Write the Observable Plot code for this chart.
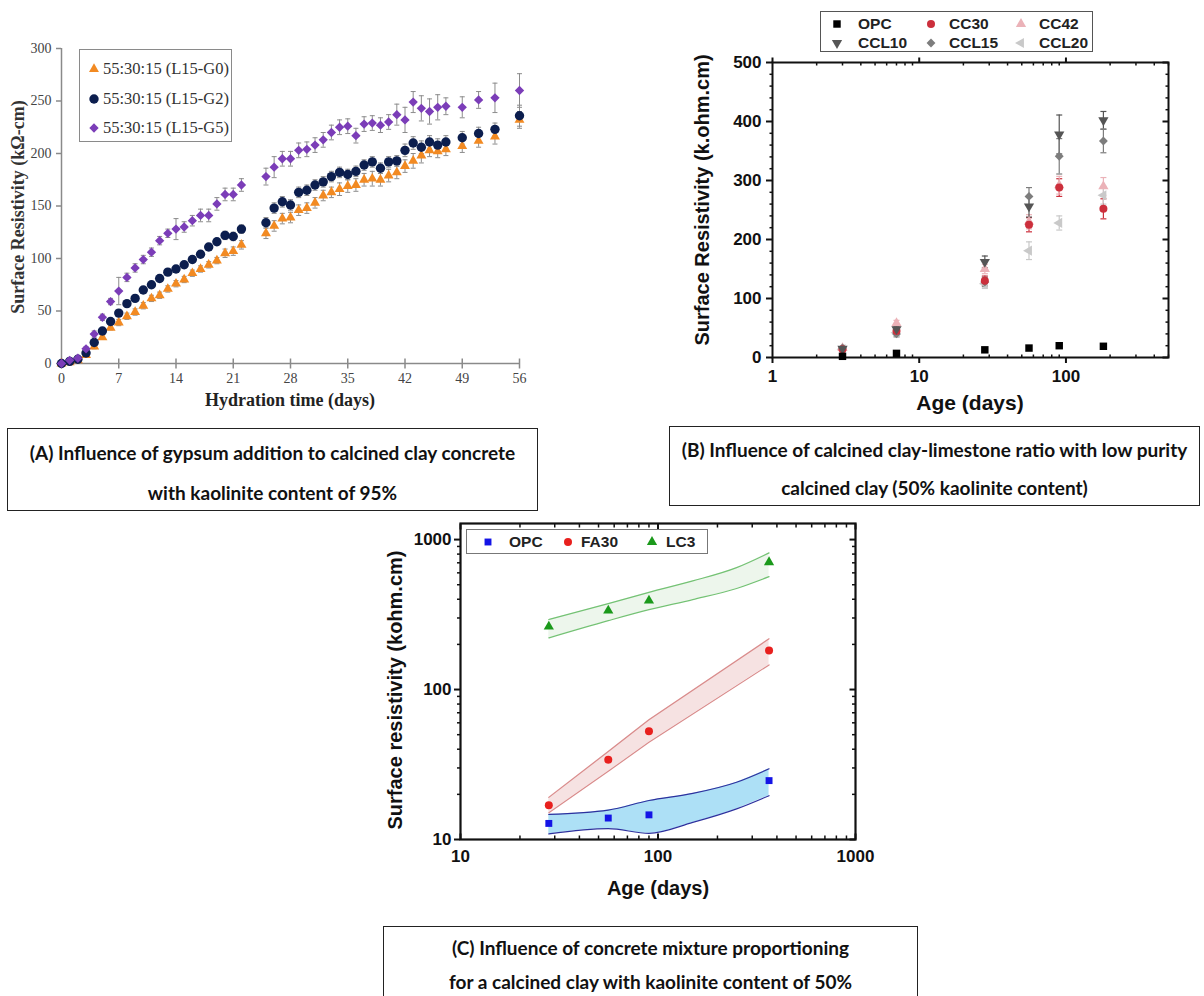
<!DOCTYPE html>
<html><head><meta charset="utf-8">
<script src="https://cdn.jsdelivr.net/npm/d3@7"></script>
<script src="https://cdn.jsdelivr.net/npm/@observablehq/plot@0.6"></script>
<style>
html,body{margin:0;padding:0;background:#fff;}
body{width:1204px;height:996px;position:relative;overflow:hidden;}
.abs{position:absolute;}
.cap{position:absolute;border:1.5px solid #222;font-family:Lato,"Open Sans",sans-serif;font-weight:bold;font-size:19px;text-align:center;color:#111;box-sizing:border-box;white-space:nowrap;}
.cap div{position:absolute;left:0;right:0;transform:translateY(-50%);}
.rot{position:absolute;transform:translate(-50%,-50%) rotate(-90deg);white-space:nowrap;}
.ctr{position:absolute;transform:translate(-50%,-50%);white-space:nowrap;}
.leg{position:absolute;box-sizing:border-box;background:#fff;}
.leg span{position:absolute;transform:translateY(-50%);white-space:nowrap;}
.leg svg{position:absolute;overflow:visible;}
</style></head><body>
<script>
// ---------------- Panel A data ----------------
const seriesA = ["55:30:15 (L15-G0)", "55:30:15 (L15-G2)", "55:30:15 (L15-G5)"];
const daysA = [0,1,2,3,4,5,6,7,8,9,10,11,12,13,14,15,16,17,18,19,20,21,22,25,26,27,28,29,30,31,32,33,34,35,36,37,38,39,40,41,42,43,44,45,46,47,49,51,53,56];
const g0 = [0,1,3,8,16,25,34,39,45,49,55,62,65,71,76,80,86,90,94,98,105,107,113,124,131,138,139,146,148,153,160,163,166,169,170,175,176,175,179,182,188,193,198,203,202,204,207,212,216,232];
const g2 = [0,2,4,10,20,31,40,48,57,62,70,75,81,87,90,94,99,104,111,116,122,121,128,134,148,154,151,163,165,170,173,178,182,180,183,189,192,186,192,193,203,210,206,211,208,211,215,219,223,236];
const g5 = [0,3,5,14,28,44,59,69,82,91,99,106,117,124,128,130,136,141,141,152,161,161,170,178,187,195,195,203,204,208,213,220,225,226,217,228,229,227,230,237,232,249,243,240,244,245,244,251,253,260];
const eG0 = [0,1,1,2,2,2,2,3,3,3,3,3,3,3,3,3,3,3,3,3,4,4,4,5,5,5,5,5,5,5,5,5,6,6,6,6,7,6,6,6,6,7,7,6,6,6,6,6,7,8];
const eG2 = [0,1,1,2,2,2,2,3,3,3,3,3,3,3,3,3,3,3,3,3,4,4,4,5,5,5,5,5,5,5,5,5,5,5,5,5,5,5,5,5,6,6,6,6,6,6,6,6,6,10];
const eG5 = [0,1,2,2,3,3,3,13,4,4,4,4,4,4,10,5,5,6,6,6,6,6,6,8,10,7,7,7,7,7,7,7,7,7,7,7,7,7,7,10,12,10,12,12,12,8,10,8,14,16];
const xTicksA = [0,7,14,21,28,35,42,49,56];
const yTicksA = [0,50,100,150,200,250,300];

// ---------------- Panel B data ----------------
const seriesB = ["OPC","CC30","CC42","CCL10","CCL15","CCL20"];
const daysB = [3,7,28,56,90,180];
const opcB   = [2,7,13,16,20,19];
const cc30   = [14,45,130,225,288,252];
const cc42   = [16,58,150,230,292,290];
const ccl10  = [15,48,162,256,378,402];
const ccl15  = [16,40,128,273,341,367];
const ccl20  = [14,42,125,181,228,275];
const eOpcB  = [0,0,0,0,0,0];
const eCc30  = [2,5,8,12,15,17];
const eCc42  = [2,5,8,12,15,15];
const eCcl10 = [2,5,10,18,33,15];
const eCcl15 = [2,5,8,15,30,20];
const eCcl20 = [2,5,8,15,12,15];
const xTicksB = [1,10,100];
const yTicksB = [0,100,200,300,400,500];

// ---------------- Panel C data ----------------
const seriesC = ["OPC","FA30","LC3"];
const daysC = [28,56,90,365];
const opcC  = [12.8,13.9,14.6,24.7];
const fa30  = [16.9,34,52.7,182];
const lc3   = [263,336,392,706];
const bandDaysOPC = [28,56,90,150,250,365];
const opcUp  = [14.7,15.7,18.2,20.3,24.1,29.6];
const opcLo  = [10.9,11.8,11.0,13.0,16.0,19.6];
const bandDaysFA = [28,56,90,365];
const faUp   = [19.1,38.6,62.8,218];
const faLo   = [15.1,28.5,44.5,146];
const bandDaysLC = [28,56,90,150,250,365];
const lcUp   = [293,374,445,530,650,815];
const lcLo   = [221,288,341,398,472,566];
const xTicksC = [10,100,1000];
const yTicksC = [10,100,1000];

// ---------------- helpers ----------------
const lineSym = (x1,y1,x2,y2) => ({draw(ctx, size){const r=Math.sqrt(size/Math.PI); ctx.moveTo(x1*r,y1*r); ctx.lineTo(x2*r,y2*r);}});
const vFull = lineSym(0,-1,0,1), hFull = lineSym(-1,0,1,0);
const tUp = lineSym(0,0,0,-1), tDown = lineSym(0,0,0,1), tLeft = lineSym(0,0,-1,0);

function place(node, left, top){ const d=document.createElement("div"); d.className="abs"; d.style.left=left+"px"; d.style.top=top+"px"; d.appendChild(node); document.body.appendChild(d); return d; }
function text(cls, str, x, y, style){ const d=document.createElement("div"); d.className=cls; d.textContent=str; d.style.left=x+"px"; d.style.top=y+"px"; Object.assign(d.style, style); document.body.appendChild(d); return d; }
function symPath(name, r){ const m={circle:d3.symbolCircle,triangle:d3.symbolTriangle,square:d3.symbolSquare,diamond2:d3.symbolDiamond2}; return d3.symbol(m[name], r*r*Math.PI)(); }
function legend(box, items, font){
  const L=document.createElement("div"); L.className="leg";
  Object.assign(L.style,{left:box.x+"px",top:box.y+"px",width:box.w+"px",height:box.h+"px",border:box.border});
  items.forEach(it=>{
    const s=document.createElementNS("http://www.w3.org/2000/svg","svg");
    s.setAttribute("width",1); s.setAttribute("height",1);
    s.style.left=it.mx+"px"; s.style.top=it.y+"px";
    const p=document.createElementNS("http://www.w3.org/2000/svg","path");
    p.setAttribute("d",symPath(it.sym,it.r)); p.setAttribute("fill",it.color);
    if(it.rot) p.setAttribute("transform","rotate("+it.rot+")");
    s.appendChild(p); L.appendChild(s);
    const t=document.createElement("span"); t.textContent=it.label;
    Object.assign(t.style,{left:it.tx+"px",top:it.y+"px"},font); L.appendChild(t);
  });
  document.body.appendChild(L);
}

// ---------------- Panel A ----------------
const colA = ["#f28a22","#0c1e4e","#7b3db8"];
const symA = ["triangle","circle","diamond2"];
const rA = [3.7,4.7,4.2];
const valsA = [g0,g2,g5], errsA = [eG0,eG2,eG5];
const rowsA = valsA.map((arr,k)=>daysA.map((d,i)=>({k, day:d, v:arr[i], e:errsA[k][i]})));
const serifA = "'Liberation Serif','Times New Roman',serif";
const marksA = [
  Plot.ruleY([0],{stroke:"#8a8a8a",strokeWidth:1.5}),
  Plot.ruleX([0],{stroke:"#8a8a8a",strokeWidth:1.5}),
  Plot.dot(xTicksA,{x:d=>d,y:()=>0,symbol:vFull,r:5,stroke:"#8a8a8a",fill:"none",strokeWidth:1.5}),
  Plot.axisX({ticks:xTicksA,tickSize:0,tickPadding:10,fontSize:14,fontFamily:serifA,fill:"#444",label:null}),
  Plot.axisY({ticks:yTicksA,tickSize:5,tickPadding:5,stroke:"#8a8a8a",strokeWidth:1.5,fontSize:14,fontFamily:serifA,fill:"#444",label:null})
];
rowsA.forEach(rows=>{
  const r2=rows.filter(d=>d.e>0);
  marksA.push(Plot.ruleX(r2,{x:"day",y1:d=>d.v-d.e,y2:d=>d.v+d.e,stroke:"#8c8c8c",strokeWidth:1}));
  marksA.push(Plot.dot(r2,{x:"day",y:d=>d.v+d.e,symbol:hFull,r:2.5,stroke:"#8c8c8c",fill:"none",strokeWidth:1}));
  marksA.push(Plot.dot(r2,{x:"day",y:d=>d.v-d.e,symbol:hFull,r:2.5,stroke:"#8c8c8c",fill:"none",strokeWidth:1}));
});
rowsA.forEach((rows,k)=>marksA.push(Plot.dot(rows,{x:"day",y:"v",symbol:symA[k],r:rA[k],fill:colA[k],stroke:"none"})));
const plotA = Plot.plot({width:600,height:420,marginLeft:61,marginRight:81,marginTop:48,marginBottom:57,
  x:{domain:[0,56]},y:{domain:[0,300]},style:{background:"transparent",overflow:"visible"},marks:marksA});
place(plotA,0,0);
text("rot","Surface Resistivity (kΩ-cm)",18,207,{fontFamily:serifA,fontWeight:"bold",fontSize:"18px",color:"#333"});
text("ctr","Hydration time (days)",290,400,{fontFamily:serifA,fontWeight:"bold",fontSize:"18px",color:"#222"});
legend({x:79,y:49,w:153,h:93,border:"1px solid #8a8a8a"},
  seriesA.map((s,k)=>({label:s,sym:symA[k],r:rA[k],color:colA[k],mx:14,tx:23,y:[19,49,78][k]})),
  {fontFamily:serifA,fontSize:"16.5px",color:"#333"});

// ---------------- Panel B ----------------
const sans = "'Liberation Sans',Arial,sans-serif";
const colB = ["#000000","#cc2f3c","#ebb2b8","#555555","#7d7d7d","#c9c9c9"];
const symB = ["square","circle","triangle","triangle","diamond2","triangle"];
const rotB = [0,0,0,180,0,-90];
const rB = [4.2,4,3.8,3.8,4,3.8];
const valsB = [opcB,cc30,cc42,ccl10,ccl15,ccl20], errsB=[eOpcB,eCc30,eCc42,eCcl10,eCcl15,eCcl20];
const rowsB = valsB.map((arr,k)=>daysB.map((d,i)=>({k,day:d,v:arr[i],e:errsB[k][i]})));
const minorXB = [2,3,4,5,6,7,8,9,20,30,40,50,60,70,80,90,200,300,400,500];
const minorYB = d3.range(20,500,20).filter(v=>v%100!==0);
const tickCol="#111";
const marksB = [
  Plot.frame({stroke:tickCol,strokeWidth:2}),
  Plot.axisY({ticks:yTicksB,tickSize:6,tickPadding:5,stroke:tickCol,strokeWidth:2,fontSize:17,fontWeight:"bold",fontFamily:sans,fill:"#111",label:null}),
  Plot.axisX({ticks:xTicksB,tickSize:6,tickPadding:6,tickFormat:d=>String(d),stroke:tickCol,strokeWidth:2,fontSize:17,fontWeight:"bold",fontFamily:sans,fill:"#111",label:null}),
  Plot.dot(minorYB,{x:()=>1,y:d=>d,symbol:tLeft,r:3,stroke:tickCol,fill:"none",strokeWidth:1.5}),
  Plot.dot(minorYB,{x:()=>500,y:d=>d,symbol:tLeft,r:3,stroke:tickCol,fill:"none",strokeWidth:1.5}),
  Plot.dot(yTicksB,{x:()=>500,y:d=>d,symbol:tLeft,r:6,stroke:tickCol,fill:"none",strokeWidth:2}),
  Plot.dot(minorXB,{x:d=>d,y:()=>0,symbol:tUp,r:3,stroke:tickCol,fill:"none",strokeWidth:1.5}),
  Plot.dot(minorXB,{x:d=>d,y:()=>500,symbol:tDown,r:3,stroke:tickCol,fill:"none",strokeWidth:1.5}),
  Plot.dot(xTicksB,{x:d=>d,y:()=>500,symbol:tUp,r:5,stroke:tickCol,fill:"none",strokeWidth:2})
];
rowsB.forEach((rows,k)=>{
  const r2=rows.filter(d=>d.e>0);
  marksB.push(Plot.ruleX(r2,{x:"day",y1:d=>d.v-d.e,y2:d=>d.v+d.e,stroke:colB[k],strokeWidth:1.2}));
  marksB.push(Plot.dot(r2,{x:"day",y:d=>d.v+d.e,symbol:hFull,r:3,stroke:colB[k],fill:"none",strokeWidth:1.2}));
  marksB.push(Plot.dot(r2,{x:"day",y:d=>d.v-d.e,symbol:hFull,r:3,stroke:colB[k],fill:"none",strokeWidth:1.2}));
});
[5,2,4,1,3,0].forEach(k=>marksB.push(Plot.dot(rowsB[k],{x:"day",y:"v",symbol:symB[k],rotate:rotB[k],r:rB[k],fill:colB[k],stroke:"none"})));
const plotB = Plot.plot({width:544,height:420,marginLeft:112,marginRight:36,marginTop:62,marginBottom:63,
  x:{type:"log",domain:[1,500]},y:{domain:[0,500]},style:{background:"transparent",overflow:"visible"},marks:marksB});
place(plotB,660,0);
text("rot","Surface Resistivity (k.ohm.cm)",702,200,{fontFamily:sans,fontWeight:"bold",fontSize:"20px",color:"#111"});
text("ctr","Age (days)",970,403,{fontFamily:sans,fontWeight:"bold",fontSize:"21px",color:"#111"});
legend({x:820,y:11,w:273,h:41,border:"1.5px solid #555"},
  seriesB.map((s,k)=>({label:s,sym:symB[k],r:rB[k],color:colB[k],rot:rotB[k],mx:[16,110,200][k%3],tx:[37,128,218][k%3],y:[12,31][Math.floor(k/3)]})),
  {fontFamily:sans,fontWeight:"bold",fontSize:"15.5px",color:"#222"});

// ---------------- Panel C ----------------
const colC = ["#1414e6","#e8201e","#1b991b"];
const symC = ["square","circle","triangle"];
const rC = [3.9,4,3.8];
const ptsC = [opcC,fa30,lc3];
const bands = [
  {days:bandDaysOPC,up:opcUp,lo:opcLo,fill:"#ade0f6",line:"#2d319e",curve:"monotone-x"},
  {days:bandDaysFA,up:faUp,lo:faLo,fill:"#f6e2e2",line:"#d98b8b",curve:"linear"},
  {days:bandDaysLC,up:lcUp,lo:lcLo,fill:"#edf6ec",line:"#74c274",curve:"monotone-x"}
];
const minorC = [20,30,40,50,60,70,80,90,200,300,400,500,600,700,800,900];
const marksC = [];
bands.forEach(b=>{
  const rows=b.days.map((d,i)=>({d,up:b.up[i],lo:b.lo[i]}));
  marksC.push(Plot.areaY(rows,{x:"d",y1:"lo",y2:"up",fill:b.fill,curve:b.curve}));
  marksC.push(Plot.line(rows,{x:"d",y:"up",stroke:b.line,strokeWidth:1.2,curve:b.curve}));
  marksC.push(Plot.line(rows,{x:"d",y:"lo",stroke:b.line,strokeWidth:1.2,curve:b.curve}));
});
ptsC.forEach((arr,k)=>marksC.push(Plot.dot(daysC.map((d,i)=>({d,v:arr[i]})),{x:"d",y:"v",symbol:symC[k],r:rC[k],fill:colC[k],stroke:"none"})));
marksC.push(
  Plot.frame({stroke:tickCol,strokeWidth:2.2}),
  Plot.axisY({ticks:yTicksC,tickSize:6,tickPadding:3,tickFormat:d=>String(d),stroke:tickCol,strokeWidth:2,fontSize:17,fontWeight:"bold",fontFamily:sans,fill:"#111",label:null}),
  Plot.axisX({ticks:xTicksC,tickSize:0,tickPadding:10,tickFormat:d=>String(d),fontSize:17,fontWeight:"bold",fontFamily:sans,fill:"#111",label:null}),
  Plot.dot(minorC,{x:()=>10,y:d=>d,symbol:tLeft,r:3.5,stroke:tickCol,fill:"none",strokeWidth:1.5}),
  Plot.dot(minorC,{x:()=>1000,y:d=>d,symbol:tLeft,r:3.5,stroke:tickCol,fill:"none",strokeWidth:1.5}),
  Plot.dot(yTicksC,{x:()=>1000,y:d=>d,symbol:tLeft,r:6,stroke:tickCol,fill:"none",strokeWidth:2}),
  Plot.dot(minorC,{x:d=>d,y:()=>10,symbol:tUp,r:4,stroke:tickCol,fill:"none",strokeWidth:1.5}),
  Plot.dot(xTicksC,{x:d=>d,y:()=>10,symbol:tUp,r:6,stroke:tickCol,fill:"none",strokeWidth:2}),
  Plot.dot(minorC,{x:d=>d,y:()=>1280,symbol:tDown,r:4,stroke:tickCol,fill:"none",strokeWidth:1.5}),
  Plot.dot(xTicksC,{x:d=>d,y:()=>1280,symbol:tDown,r:6,stroke:tickCol,fill:"none",strokeWidth:2})
);
const plotC = Plot.plot({width:520,height:420,marginLeft:80,marginRight:45,marginTop:23,marginBottom:81,
  x:{type:"log",domain:[10,1000]},y:{type:"log",domain:[10,1280]},style:{background:"transparent",overflow:"visible"},marks:marksC});
place(plotC,380,500);
text("rot","Surface resistivity (kohm.cm)",395,690,{fontFamily:sans,fontWeight:"bold",fontSize:"20px",color:"#111"});
text("ctr","Age (days)",658,888,{fontFamily:sans,fontWeight:"bold",fontSize:"20px",color:"#111"});
legend({x:466,y:529,w:242,h:25,border:"1px solid #777"},
  seriesC.map((s,k)=>({label:s,sym:symC[k],r:rC[k],color:colC[k],mx:[21,101,185][k],tx:[42,114,199][k],y:12})),
  {fontFamily:sans,fontWeight:"bold",fontSize:"15.5px",color:"#222"});

// ---------------- Captions ----------------
function caption(x,y,w,h,lines,ys){
  const d=document.createElement("div"); d.className="cap";
  Object.assign(d.style,{left:x+"px",top:y+"px",width:w+"px",height:h+"px"});
  lines.forEach((l,i)=>{const s=document.createElement("div"); s.textContent=l; s.style.top=ys[i]+"px"; d.appendChild(s);});
  document.body.appendChild(d);
}
caption(7,428,531,83,["(A) Influence of gypsum addition to calcined clay concrete","with kaolinite content of 95%"],[23,63]);
caption(669,426,531,80,["(B) Influence of calcined clay-limestone ratio  with low purity","calcined clay (50% kaolinite content)"],[22,60]);
caption(383,926,535,90,["(C) Influence of concrete mixture proportioning","for a calcined clay with kaolinite content of 50%"],[20,54]);
</script>
</body></html>
